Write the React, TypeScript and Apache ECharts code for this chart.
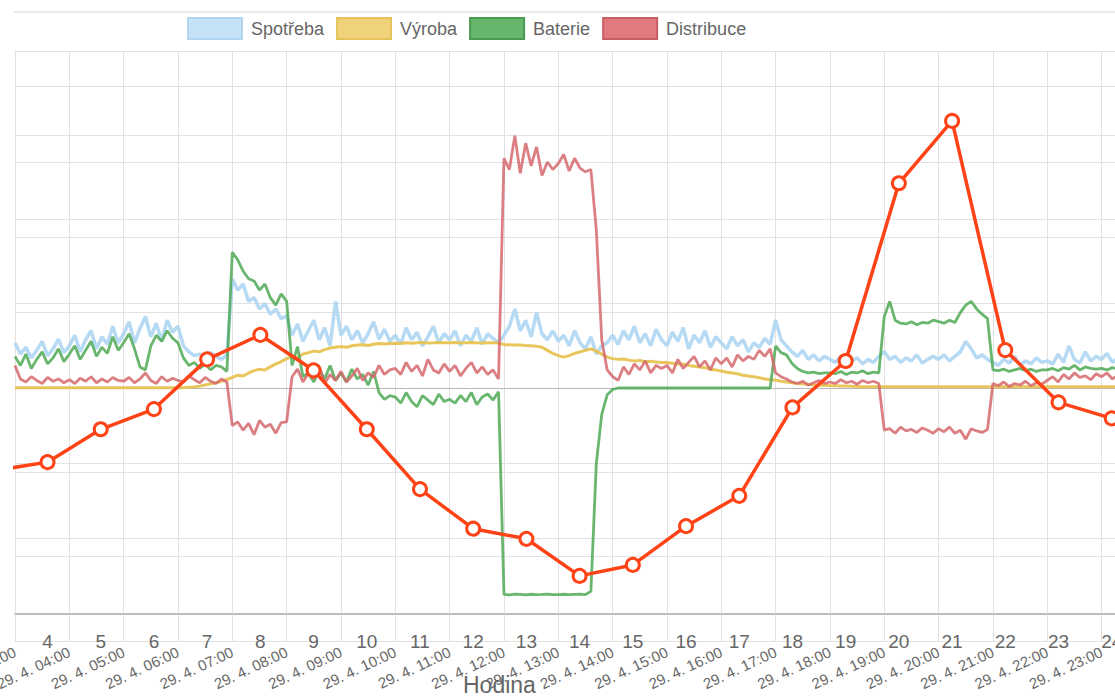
import React, { useEffect, useRef } from "react";
import * as echarts from "echarts";

// ---------- data ----------
const DAY_LABEL = "29. 4.";
const SAMPLE_START = 3; // first sample at 03:00
const SAMPLES_PER_HOUR = 10; // one sample every 6 minutes

const legendNames = ["Spotřeba", "Výroba", "Baterie", "Distribuce"];

// Spotřeba [W]
const spotreba = [
  600, 450, 540, 400, 500, 620, 430, 520, 650, 470, // 03
  560, 700, 480, 640, 760, 520, 680, 580, 820, 600, // 04
  720, 880, 600, 790, 950, 680, 860, 620, 900, 740, // 05
  820, 560, 480, 430, 450, 400, 470, 420, 380, 440, // 06
  1450, 1300, 1380, 1150, 1200, 1050, 1120, 980, 1050, 920, // 07
  960, 700, 850, 620, 760, 900, 640, 800, 560, 1150, // 08
  700, 820, 640, 760, 600, 720, 880, 650, 780, 620, // 09
  700, 580, 800, 640, 740, 560, 680, 820, 600, 720, // 10
  640, 760, 560, 700, 620, 800, 580, 720, 660, 600, // 11
  700, 820, 1050, 760, 900, 680, 1000, 720, 640, 760, // 12
  620, 700, 560, 760, 600, 520, 680, 450, 560, 600, // 13
  700, 580, 760, 640, 820, 600, 720, 560, 780, 640, // 14
  560, 740, 620, 800, 520, 700, 600, 760, 540, 680, // 15
  600, 520, 680, 560, 640, 480, 600, 540, 660, 580, // 16
  900, 640, 560, 480, 420, 500, 380, 440, 360, 420, // 17
  380, 340, 420, 300, 360, 400, 320, 380, 340, 420, // 18
  480, 380, 420, 340, 400, 360, 440, 330, 380, 420, // 19
  380, 440, 360, 420, 480, 620, 520, 400, 440, 380, // 20
  340, 300, 380, 330, 420, 300, 360, 320, 400, 340, // 21
  360, 320, 450, 340, 560, 380, 330, 480, 360, 420, // 22
  380, 460, 340, 400, // 23
];

// Výroba [W]
const vyroba = [
  5, 5, 5, 5, 5, 5, 5, 5, 5, 5, // 03
  5, 5, 5, 5, 5, 5, 5, 5, 5, 5, // 04
  5, 5, 5, 5, 5, 5, 5, 5, 5, 5, // 05
  5, 5, 10, 15, 25, 40, 55, 70, 90, 115, // 06
  140, 170, 160, 200, 230, 250, 240, 280, 320, 350, // 07
  390, 420, 400, 450, 470, 490, 480, 510, 530, 540, // 08
  550, 540, 560, 570, 575, 565, 580, 590, 585, 590, // 09
  595, 590, 600, 595, 600, 605, 598, 600, 605, 600, // 10
  600, 605, 598, 600, 603, 600, 598, 602, 600, 598, // 11
  575, 575, 570, 572, 565, 560, 555, 540, 500, 460, // 12
  430, 410, 430, 460, 480, 500, 520, 490, 450, 410, // 13
  390, 380, 385, 370, 360, 365, 350, 355, 345, 340, // 14
  340, 330, 320, 315, 300, 290, 280, 270, 250, 240, // 15
  225, 210, 200, 190, 170, 160, 150, 135, 120, 110, // 16
  105, 90, 80, 70, 60, 55, 48, 42, 38, 35, // 17
  32, 30, 28, 25, 22, 20, 18, 17, 16, 15, // 18
  15, 15, 15, 15, 15, 15, 15, 15, 15, 15, // 19
  15, 15, 15, 15, 15, 15, 15, 15, 15, 15, // 20
  15, 15, 15, 15, 15, 15, 15, 15, 15, 15, // 21
  15, 15, 15, 15, 15, 15, 15, 15, 15, 15, // 22
  15, 15, 15, 15, // 23
];

// Baterie [W]
const baterie = [
  420, 300, 450, 260, 380, 480, 320, 400, 520, 350, // 03
  450, 560, 380, 500, 620, 420, 540, 460, 680, 500, // 04
  600, 720, 520, 280, 240, 560, 700, 620, 760, 660, // 05
  600, 400, 300, 340, 260, 320, 240, 300, 280, 220, // 06
  1800, 1700, 1550, 1450, 1420, 1300, 1380, 1200, 1100, 1250, // 07
  1150, 300, 550, 150, 200, 80, 250, 120, 300, 100, // 08
  200, 80, 250, 120, 180, 40, 220, -60, -150, -100, // 09
  -120, -200, -60, -180, -250, -100, -160, -220, -80, -180, // 10
  -150, -200, -100, -180, -60, -220, -120, -80, -160, -50, // 11
  -2740, -2745, -2735, -2740, -2745, -2738, -2742, -2740, -2736, -2744, // 12
  -2742, -2738, -2744, -2740, -2736, -2742, -2700, -1000, -350, -90, // 13
  -20, 0, 0, 0, 0, 0, 0, 0, 0, 0, // 14
  0, 0, 0, 0, 0, 0, 0, 0, 0, 0, // 15
  0, 0, 0, 0, 0, 0, 0, 0, 0, 0, // 16
  560, 470, 440, 330, 260, 220, 200, 210, 190, 200, // 17
  200, 190, 220, 180, 210, 200, 230, 190, 210, 200, // 18
  950, 1150, 900, 860, 850, 880, 840, 870, 860, 900, // 19
  880, 860, 900, 870, 1000, 1100, 1150, 1050, 980, 920, // 20
  240, 230, 250, 220, 240, 260, 230, 250, 220, 240, // 21
  240, 260, 230, 270, 250, 300, 240, 280, 260, 250, // 22
  260, 240, 270, 250, // 23
];

// Distribuce [W]
const distribuce = [
  300, 120, 80, 150, 100, 60, 140, 90, 120, 70, // 03
  110, 60, 130, 90, 150, 70, 120, 80, 140, 100, // 04
  90, 140, 70, 120, 200, 100, 60, 150, 90, 130, // 05
  100, 80, 160, 110, 70, 140, 90, 60, 120, 80, // 06
  -500, -450, -560, -470, -620, -430, -520, -480, -600, -460, // 07
  -450, 150, 250, 80, 200, 120, 280, 60, 180, 100, // 08
  220, 80, 160, 260, 100, 200, 140, 300, 180, 240, // 09
  260, 180, 340, 220, 300, 160, 380, 240, 200, 320, // 10
  220, 300, 160, 260, 340, 200, 280, 180, 240, 120, // 11
  3050, 2900, 3350, 2850, 3250, 2950, 3200, 2820, 3000, 2900, // 12
  2980, 3100, 2880, 3050, 2920, 2870, 2900, 2100, 640, 240, // 13
  150, 100, 280, 180, 320, 240, 360, 200, 300, 260, // 14
  300, 200, 380, 260, 340, 420, 280, 360, 240, 400, // 15
  320, 400, 280, 440, 360, 420, 380, 500, 420, 520, // 16
  200, 150, 120, 80, 60, 90, 40, 70, 100, 60, // 17
  80, 60, 110, 70, 90, 50, 100, 70, 90, 60, // 18
  -560, -540, -600, -520, -570, -550, -590, -530, -560, -600, // 19
  -540, -580, -520, -600, -560, -680, -540, -570, -590, -550, // 20
  60, 30, 80, 20, 60, 40, 90, 30, 70, 50, // 21
  100, 150, 80, 180, 120, 200, 140, 160, 110, 190, // 22
  150, 200, 120, 170, // 23
];

// hourly line (right scale)
const hours = [3, 4, 5, 6, 7, 8, 9, 10, 11, 12, 13, 14, 15, 16, 17, 18, 19, 20, 21, 22, 23, 24];
const cena = [
  -0.98, -0.88, -0.49, -0.25, 0.34, 0.63, 0.21, -0.49, -1.2, -1.67, -1.79,
  -2.23, -2.1, -1.64, -1.28, -0.23, 0.32, 2.43, 3.17, 0.45, -0.17, -0.36,
];
const hourTickLabels = [4, 5, 6, 7, 8, 9, 10, 11, 12, 13, 14, 15, 16, 17, 18, 19, 20, 21, 22, 23, 24];
const cenaGridValues = [-2, -1, 1, 2, 3, 4];

// ---------- chart ----------
const FONT = "Arial, 'Liberation Sans', Helvetica, sans-serif";
const GRID = "#e1e1e1";

function toPairs(values: number[]) {
  return values.map((v, i) => [SAMPLE_START + i / SAMPLES_PER_HOUR, v]);
}

function pad2(n: number) {
  return (n < 10 ? "0" : "") + n;
}

export default function App() {
  const ref = useRef<HTMLDivElement>(null);

  useEffect(() => {
    if (!ref.current) return;
    const chart = echarts.init(ref.current, undefined, { renderer: "svg" });

    const powerSeries = (
      name: string,
      values: number[],
      color: string,
      width: number,
      opacity: number,
      z: number
    ) => ({
      name,
      type: "line",
      xAxisIndex: 0,
      yAxisIndex: 0,
      data: toPairs(values),
      showSymbol: false,
      symbol: "none",
      z,
      lineStyle: { color, width, opacity },
      itemStyle: { color },
      emphasis: { disabled: true },
    });

    const option: any = {
      animation: false,
      textStyle: { fontFamily: FONT },
      grid: {
        left: 15,
        right: 0,
        top: 51,
        bottom: 83,
        containLabel: false,
        outerBoundsMode: "none",
      },
      legend: {
        left: 187,
        top: 17,
        padding: 0,
        itemWidth: 54,
        itemHeight: 21,
        itemGap: 12,
        icon: "rect",
        selectedMode: false,
        textStyle: { fontSize: 18, color: "#666", fontFamily: FONT, padding: [0, 0, 0, 4] },
        data: [
          { name: legendNames[0], itemStyle: { color: "#c6e2f7", borderColor: "#b2d6f0", borderWidth: 2 } },
          { name: legendNames[1], itemStyle: { color: "#f0d27a", borderColor: "#e6c25a", borderWidth: 2 } },
          { name: legendNames[2], itemStyle: { color: "#68b56c", borderColor: "#4a9a4f", borderWidth: 2 } },
          { name: legendNames[3], itemStyle: { color: "#e07a7e", borderColor: "#c95f64", borderWidth: 2 } },
        ],
      },
      graphic: [
        {
          type: "line",
          silent: true,
          shape: { x1: 13, y1: 12, x2: 1115, y2: 12 },
          style: { stroke: "#ececec", lineWidth: 2 },
        },
        {
          type: "text",
          left: 463,
          top: 673,
          silent: true,
          style: { text: "Hodina", fontSize: 23, fill: "#666", fontFamily: FONT },
        },
      ],
      xAxis: [
        {
          type: "value",
          min: 3,
          max: 23.247,
          interval: 1,
          position: "bottom",
          axisLine: { show: true, onZero: false, lineStyle: { color: "#bdbdbd", width: 2 } },
          axisTick: { show: true, length: 27, lineStyle: { color: GRID } },
          splitLine: { show: true, lineStyle: { color: GRID, width: 1 } },
          axisLabel: {
            rotate: 25,
            margin: 37,
            fontSize: 15,
            color: "#666",
            fontFamily: FONT,
            formatter: (v: number) =>
              Math.abs(v - Math.round(v)) < 1e-6 ? `${DAY_LABEL} ${pad2(Math.round(v))}:00` : "",
          },
        },
        {
          type: "value",
          min: 3.389,
          max: 24.062,
          position: "bottom",
          offset: 27,
          axisLine: { show: true, onZero: false, lineStyle: { color: GRID, width: 1 } },
          axisTick: { show: false },
          splitLine: { show: false },
          axisLabel: {
            customValues: hourTickLabels,
            fontSize: 19,
            color: "#666",
            fontFamily: FONT,
            margin: 0,
            verticalAlign: "middle",
            formatter: (v: number) => String(Math.round(v)),
          },
        },
      ],
      yAxis: [
        {
          type: "value",
          min: -3000,
          max: 4473.6,
          interval: 1000,
          position: "left",
          axisLabel: { show: false },
          axisTick: { show: false },
          axisLine: { show: true, lineStyle: { color: GRID } },
          splitLine: { show: true, lineStyle: { color: GRID, width: 1 } },
        },
        {
          type: "value",
          min: -2.6825,
          max: 4,
          position: "right",
          axisLabel: { show: false },
          axisTick: { show: false },
          axisLine: { show: false },
          splitLine: { show: false },
        },
      ],
      series: [
        powerSeries(legendNames[0], spotreba, "#a9d3f2", 3.5, 0.85, 6),
        powerSeries(legendNames[1], vyroba, "#e8c352", 3, 0.95, 7),
        powerSeries(legendNames[2], baterie, "#4fa955", 2.8, 0.85, 8),
        powerSeries(legendNames[3], distribuce, "#d5686c", 2.8, 0.85, 9),
        {
          name: "Cena",
          type: "line",
          xAxisIndex: 1,
          yAxisIndex: 1,
          z: 10,
          data: hours.map((h, i) => [h, cena[i]]),
          symbol: "circle",
          symbolSize: 13,
          showSymbol: true,
          lineStyle: { color: "#ff4317", width: 3.5 },
          itemStyle: { color: "#ffffff", borderColor: "#ff4317", borderWidth: 3 },
          emphasis: { disabled: true },
          markLine: {
            silent: true,
            symbol: ["none", "none"],
            label: { show: false },
            emphasis: { disabled: true },
            lineStyle: { color: GRID, type: "solid", width: 1 },
            data: [
              ...cenaGridValues.map((v) => ({ yAxis: v })),
              { yAxis: 0, lineStyle: { color: "#b8b8b8", type: "solid", width: 1 } },
            ],
          },
        },
      ],
    };

    chart.setOption(option);
    return () => chart.dispose();
  }, []);

  return (
    <div
      ref={ref}
      style={{ position: "fixed", left: 0, top: 0, width: 1115, height: 697, background: "#fff" }}
    />
  );
}
